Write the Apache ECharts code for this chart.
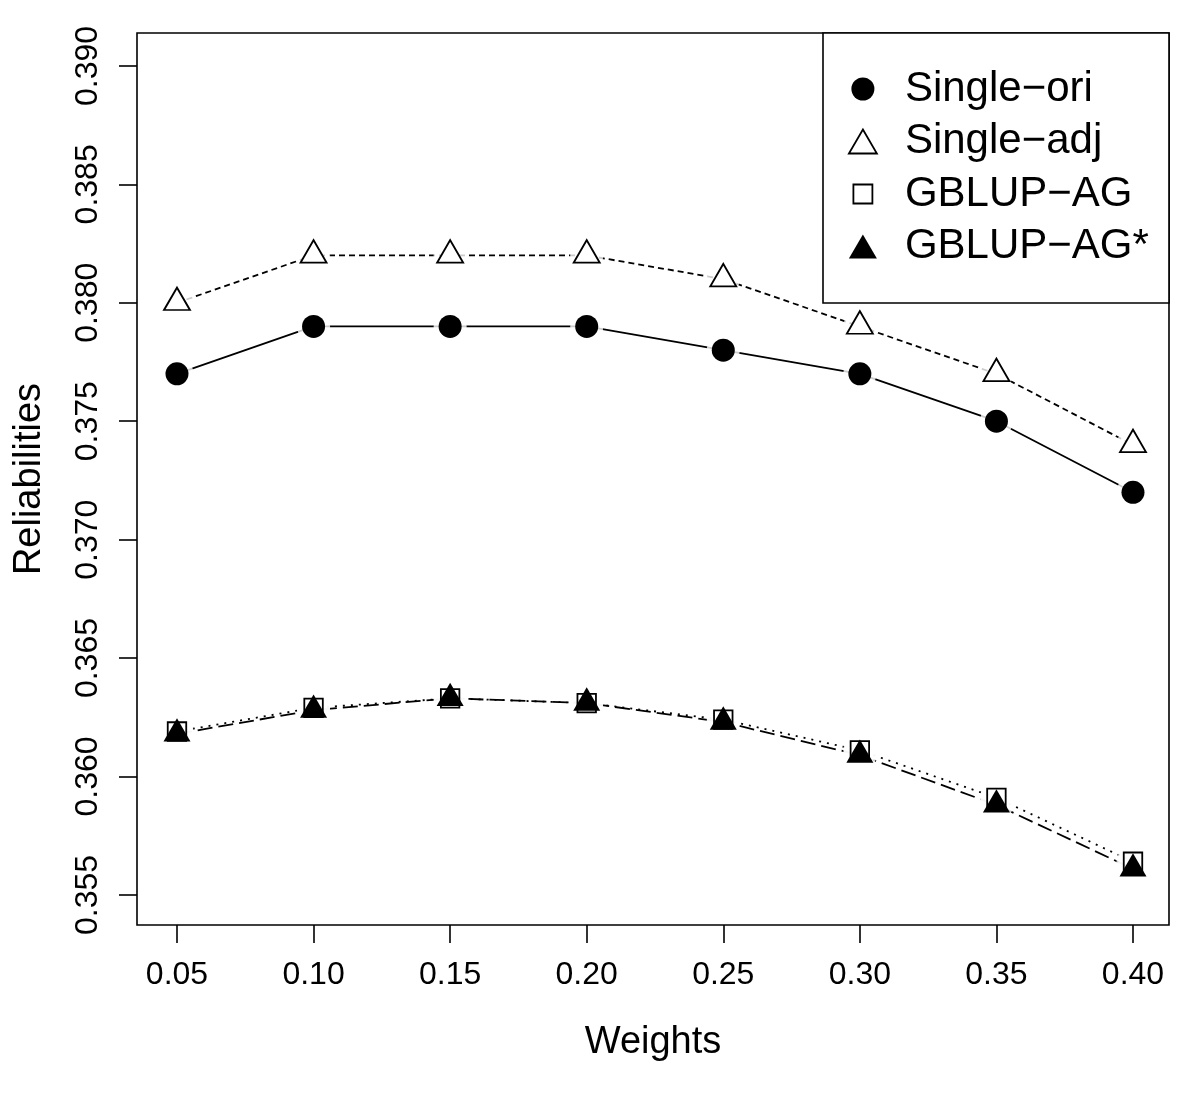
<!DOCTYPE html>
<html><head><meta charset="utf-8">
<script src="https://cdn.jsdelivr.net/npm/echarts@6/dist/echarts.min.js"></script>
<style>html,body{margin:0;padding:0;background:#fff}#c{width:1200px;height:1101px}</style>
</head><body><div id="c"></div>
<script>
const weights = [0.05, 0.10, 0.15, 0.20, 0.25, 0.30, 0.35, 0.40];
const singleOri = [0.377, 0.379, 0.379, 0.379, 0.378, 0.377, 0.375, 0.372];
const singleAdj = [0.380, 0.382, 0.382, 0.382, 0.381, 0.379, 0.377, 0.374];
const gblupAG = [0.3619, 0.3629, 0.3633, 0.3631, 0.3624, 0.3611, 0.3591, 0.3564];
const gblupAGstar = [0.3618, 0.3628, 0.3633, 0.3631, 0.3623, 0.3609, 0.3588, 0.3561];
const xTicks = [0.05, 0.10, 0.15, 0.20, 0.25, 0.30, 0.35, 0.40];
const yTicks = [0.355, 0.360, 0.365, 0.370, 0.375, 0.380, 0.385, 0.390];
const seriesNames = ['Single\u2212ori', 'Single\u2212adj', 'GBLUP\u2212AG', 'GBLUP\u2212AG*'];

const FONT = 'Liberation Sans, Arial, Helvetica, sans-serif';
const pairs = ys => weights.map((w, i) => [w, ys[i]]);

const styles = [
  { values: singleOri, dash: 'solid', symbol: 'circle', size: 23, offset: [0, 0], fill: '#000', border: 0 },
  { values: singleAdj, dash: [6, 4], symbol: 'triangle', size: [26, 22.5], offset: [0, -4], fill: '#fff', border: 1.8 },
  { values: gblupAG, dash: [2, 6], symbol: 'rect', size: 18.5, offset: [0, 0], fill: 'rgba(0,0,0,0)', border: 1.8 },
  { values: gblupAGstar, dash: [15, 6], symbol: 'triangle', size: [27, 23.4], offset: [0, -4], fill: '#000', border: 0 }
];

const series = [];
styles.forEach((s, k) => {
  series.push({
    name: seriesNames[k], type: 'line', data: pairs(s.values), showSymbol: false, symbol: 'none',
    lineStyle: { color: '#000', width: 1.8, type: s.dash }, z: 2, silent: true, animation: false
  });
});
styles.forEach((s, k) => {
  series.push({
    name: seriesNames[k], type: 'scatter', data: pairs(s.values), symbol: 'circle', symbolSize: 33,
    itemStyle: { color: '#fff', borderWidth: 0 }, z: 3, silent: true, animation: false
  });
});
styles.forEach((s, k) => {
  series.push({
    name: seriesNames[k], type: 'scatter', data: pairs(s.values), symbol: s.symbol, symbolSize: s.size,
    symbolOffset: s.offset,
    itemStyle: { color: s.fill, borderColor: '#000', borderWidth: s.border, opacity: 1 }, z: 4, animation: false
  });
});

const legendIcons = [
  'path://M0,0M52,26M15,1.5A11.5,11.5,0,1,1,14.99,1.5Z',
  'path://M0,0M52,26M15,1L29,25L1,25Z',
  'path://M0,0M52,26M5.5,3.5L24.5,3.5L24.5,22.5L5.5,22.5Z',
  'path://M0,0M52,26M15,1L29,25L1,25Z'
];

const chart = echarts.init(document.getElementById('c'), null, { renderer: 'canvas' });
chart.setOption({
  backgroundColor: '#fff',
  animation: false,
  grid: { left: 137, right: 31, top: 33, bottom: 176, show: true, borderColor: '#000', borderWidth: 1.6,
          backgroundColor: 'transparent', containLabel: false, outerBoundsMode: 'none' },
  xAxis: {
    type: 'value', min: 0.03536, max: 0.41318,
    name: 'Weights', nameLocation: 'middle', nameGap: 99,
    nameTextStyle: { fontFamily: FONT, fontSize: 38, color: '#000' },
    axisLine: { show: false },
    splitLine: { show: false },
    axisTick: { show: true, length: 18, inside: false, customValues: xTicks, lineStyle: { color: '#000', width: 1.6 } },
    axisLabel: { customValues: xTicks, margin: 34, fontFamily: FONT, fontSize: 32, color: '#000',
                 formatter: v => v.toFixed(2) }
  },
  yAxis: {
    type: 'value', min: 0.35373, max: 0.39139,
    name: 'Reliabilities', nameLocation: 'middle', nameGap: 88,
    nameTextStyle: { fontFamily: FONT, fontSize: 38, color: '#000' },
    axisLine: { show: false },
    splitLine: { show: false },
    axisTick: { show: true, length: 18, inside: false, customValues: yTicks, lineStyle: { color: '#000', width: 1.6 } },
    axisLabel: { customValues: yTicks, margin: 33, rotate: 90, fontFamily: FONT, fontSize: 32, color: '#000',
                 formatter: v => v.toFixed(3) }
  },
  legend: {
    orient: 'vertical', left: 847, top: 68, padding: 0, itemGap: 10.5,
    itemWidth: 52, itemHeight: 26, selectedMode: false,
    textStyle: { fontFamily: FONT, fontSize: 42, color: '#000' },
    data: seriesNames.map((n, k) => ({
      name: n, icon: legendIcons[k],
      itemStyle: { color: styles[k].fill, borderColor: '#000', borderWidth: k === 1 || k === 2 ? 1.8 : 0 }
    }))
  },
  graphic: [{
    type: 'rect', shape: { x: 823, y: 33, width: 346, height: 270 },
    style: { fill: '#fff', stroke: '#000', lineWidth: 1.6 }, z: 1, silent: true
  }],
  series: series
});
</script></body></html>
